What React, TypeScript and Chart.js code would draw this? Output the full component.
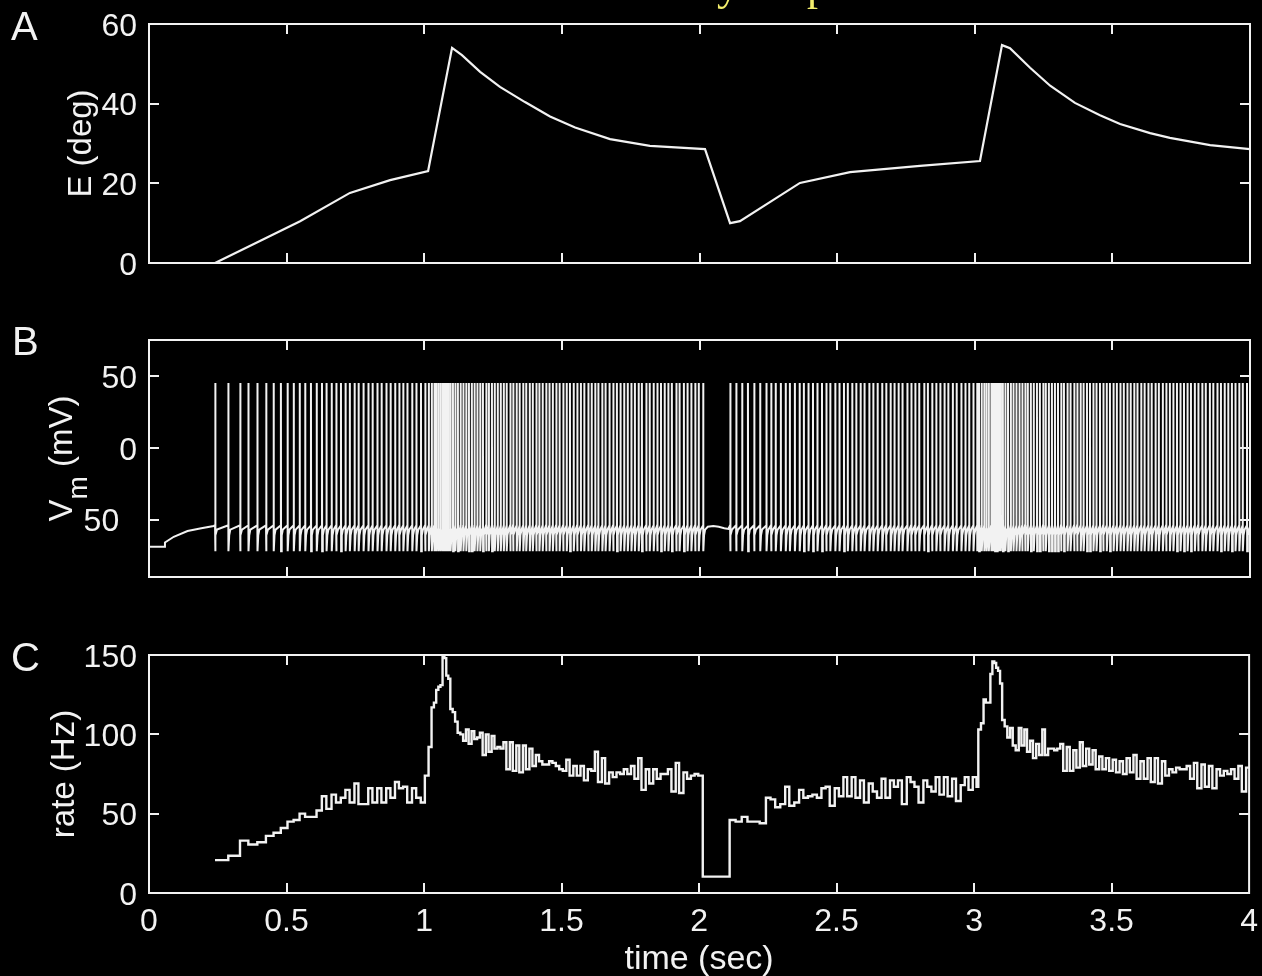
import React, { useEffect, useRef } from 'react';
import { Chart, registerables } from 'chart.js';

Chart.register(...registerables);

// ---------- shared axis data ----------
const T_END = 4;
const xTickValues = [0, 0.5, 1, 1.5, 2, 2.5, 3, 3.5, 4];

// ---------- panel A: eye position E (deg) ----------
const eTickValues = [0, 20, 40, 60];
const eTimes = [0.24, 0.403, 0.549, 0.73, 0.876, 1.014, 1.101, 1.137, 1.203, 1.275, 1.366, 1.457, 1.548, 1.675, 1.82, 2.02, 2.111, 2.147, 2.365, 2.547, 2.801, 3.019, 3.099, 3.128, 3.201, 3.274, 3.364, 3.455, 3.528, 3.637, 3.709, 3.855, 4.0];
const eValues = [0, 5.5, 10.5, 17.6, 20.8, 23.1, 54.0, 52.2, 48.0, 44.2, 40.4, 36.8, 34.0, 31.1, 29.4, 28.6, 10.0, 10.5, 20.1, 22.8, 24.4, 25.6, 54.7, 53.9, 49.0, 44.5, 40.2, 37.1, 34.9, 32.6, 31.4, 29.6, 28.6];

// ---------- panel C: instantaneous firing rate (Hz), one value per inter-spike interval ----------
const rateTickValues = [0, 50, 100, 150];
const segmentStarts = [0.24, 1.003, 2.0135, 2.1112, 3.0154];
const seg1Rates = [20.7, 23.5, 33, 30.6, 32, 36, 38, 41, 45, 46, 50, 48, 48, 52, 61, 53, 62, 57, 60, 65, 57, 69, 56, 56, 66, 57, 66, 57, 66, 60, 70, 66, 67, 57, 66, 60, 57];
const seg2Rates = [74, 92, 117, 120, 128, 130, 131, 149, 148, 137, 135, 116, 114, 108, 101, 100, 96, 103, 94, 102, 97, 98, 101, 87, 100, 89, 99, 91, 92, 91, 95, 78, 95, 77, 93, 76, 93, 78, 91, 80, 87, 83, 81, 81, 83, 82, 80, 78, 77, 84, 74, 80, 74, 80, 71, 78, 77, 89, 70, 85, 69, 76, 73, 76, 75, 78, 75, 80, 72, 85, 65, 78, 69, 78, 72, 75, 75, 78, 64, 82, 63, 76, 72, 74, 75, 74];
const gapRates = [10.3];
const seg3Rates = [46, 45, 48, 45, 45, 44, 60, 59, 54, 56, 67, 55, 57, 65, 60, 61, 62, 60, 66, 67, 55, 66, 61, 73, 61, 73, 60, 71, 57, 69, 64, 60, 72, 60, 71, 67, 71, 56, 73, 70, 67, 57, 71, 67, 64, 73, 62, 73, 61, 72, 58, 68, 73, 65, 73, 67];
const seg4Rates = [103, 107, 122, 120, 120, 138, 146, 145, 142, 140, 132, 109, 105, 98, 104, 93, 90, 104, 93, 103, 89, 96, 85, 94, 87, 103, 87, 91, 91, 90, 91, 94, 77, 92, 77, 90, 79, 95, 80, 91, 81, 90, 78, 86, 78, 85, 77, 84, 76, 83, 75, 85, 76, 87, 72, 83, 72, 85, 70, 85, 69, 83, 74, 78, 76, 79, 78, 78, 80, 72, 82, 66, 81, 67, 80, 66, 78, 74, 77, 75, 78, 72, 80, 64, 79];

// ---------- panel B: membrane potential Vm (mV) ----------
const vmTickValues = [-50, 0, 50];
const restTimes = [0, 0.055, 0.058, 0.09, 0.14, 0.19, 0.235];
const restVm = [-69, -69, -66, -62, -58, -56, -54.5];
const apOffsetMs = [0, 0, 0.6, 3, 7];
const apVm = [-54, 45, -72, -61, -57];
const gapTimes = [2.03, 2.05, 2.07, 2.09, 2.105];
const gapVm = [-55, -54.5, -55, -56, -56.5];

// ---------- styling ----------
const FG = '#f2f2f2';
const FONT = '"Liberation Sans", Arial, Helvetica, sans-serif';
const TICK_SIZE = 32;
const TITLE_SIZE = 33;

type Pt = { x: number; y: number };

function buildSpikes(): { t: number; r: number }[] {
  const segs = [seg1Rates, seg2Rates, gapRates, seg3Rates, seg4Rates];
  const out: { t: number; r: number }[] = [];
  segs.forEach((rates, k) => {
    const end = k + 1 < segmentStarts.length ? segmentStarts[k + 1] : T_END;
    let t = segmentStarts[k];
    for (const r of rates) {
      if (t >= end - 1e-4) break;
      out.push({ t, r });
      t += 1 / r;
    }
  });
  return out;
}

const spikes = buildSpikes();

const eData: Pt[] = eTimes.map((t, i) => ({ x: t, y: eValues[i] }));
const rateData: Pt[] = spikes
  .map((s) => ({ x: s.t, y: s.r }))
  .concat([{ x: T_END, y: spikes[spikes.length - 1].r }]);

function buildVm(): Pt[] {
  const pts: Pt[] = restTimes.map((t, i) => ({ x: t, y: restVm[i] }));
  spikes.forEach((s, i) => {
    const next = i + 1 < spikes.length ? spikes[i + 1].t : T_END;
    apOffsetMs.forEach((o, j) => {
      const tt = s.t + o / 1000;
      if (j < 2 || tt < next) pts.push({ x: tt, y: apVm[j] });
    });
  });
  gapTimes.forEach((t, i) => pts.push({ x: t, y: gapVm[i] }));
  pts.push({ x: T_END, y: -55 });
  return pts.slice().sort((a, b) => a.x - b.x);
}
const vmData = buildVm();

// ---------- drawing helpers ----------
function drawRotated(ctx: CanvasRenderingContext2D, parts: { text: string; size: number; dy: number }[], baseX: number, centerY: number) {
  ctx.save();
  let total = 0;
  const widths = parts.map((p) => {
    ctx.font = `${p.size}px ${FONT}`;
    const w = ctx.measureText(p.text).width;
    total += w;
    return w;
  });
  ctx.translate(baseX, centerY);
  ctx.rotate(-Math.PI / 2);
  ctx.textBaseline = 'alphabetic';
  ctx.textAlign = 'left';
  ctx.fillStyle = FG;
  let x = -total / 2;
  parts.forEach((p, i) => {
    ctx.font = `${p.size}px ${FONT}`;
    ctx.fillText(p.text, x, p.dy);
    x += widths[i];
  });
  ctx.restore();
}

function framePlugin(extra: (chart: any) => void) {
  return {
    id: 'frame' + Math.random().toString(36).slice(2),
    afterDraw(chart: any) {
      const { ctx, chartArea } = chart;
      const { left, right, top, bottom } = chartArea;
      const xs = chart.scales.x;
      const ys = chart.scales.y;
      ctx.save();
      ctx.strokeStyle = FG;
      ctx.lineWidth = 2;
      ctx.strokeRect(left, top, right - left, bottom - top);
      ctx.beginPath();
      xs.ticks.forEach((t: any) => {
        const px = Math.round(xs.getPixelForValue(t.value));
        if (px <= left + 2 || px >= right - 2) return;
        ctx.moveTo(px, bottom);
        ctx.lineTo(px, bottom - 10);
        ctx.moveTo(px, top);
        ctx.lineTo(px, top + 10);
      });
      ys.ticks.forEach((t: any) => {
        const py = Math.round(ys.getPixelForValue(t.value));
        if (py <= top + 2 || py >= bottom - 2) return;
        ctx.moveTo(left, py);
        ctx.lineTo(left + 10, py);
        ctx.moveTo(right, py);
        ctx.lineTo(right - 10, py);
      });
      ctx.stroke();
      ctx.restore();
      ctx.save();
      extra(chart);
      ctx.restore();
    },
  };
}

type Spec = {
  top: number;
  width: number;
  height: number;
  padTop: number;
  xHeight: number;
  yMin: number;
  yMax: number;
  yTicks: number[];
  yLabel: (v: number) => string;
  showX: boolean;
  data: Pt[];
  lineWidth: number;
  stepped: boolean;
  extra: (chart: any) => void;
};

function Panel({ spec }: { spec: Spec }) {
  const ref = useRef<HTMLCanvasElement>(null);
  useEffect(() => {
    const chart = new Chart(ref.current as HTMLCanvasElement, {
      type: 'line',
      data: {
        datasets: [
          {
            data: spec.data as any,
            borderColor: FG,
            borderWidth: spec.lineWidth,
            pointRadius: 0,
            tension: 0,
            fill: false,
            stepped: spec.stepped ? 'before' : false,
            borderJoinStyle: 'miter',
          } as any,
        ],
      },
      options: {
        responsive: false,
        animation: false,
        events: [],
        parsing: false,
        normalized: true,
        layout: { padding: { top: spec.padTop, right: 12, left: 0, bottom: 0 } },
        plugins: { legend: { display: false }, tooltip: { enabled: false }, title: { display: false } },
        scales: {
          x: {
            type: 'linear',
            min: 0,
            max: T_END,
            grid: { display: false, drawTicks: false },
            border: { display: false },
            afterBuildTicks: (s: any) => {
              s.ticks = xTickValues.map((v) => ({ value: v }));
            },
            ticks: {
              display: spec.showX,
              color: FG,
              font: { family: FONT, size: TICK_SIZE },
              padding: 10,
              maxRotation: 0,
              autoSkip: false,
              callback: (v: any) => String(v),
            },
            afterFit: (s: any) => {
              s.height = spec.xHeight;
            },
          },
          y: {
            type: 'linear',
            min: spec.yMin,
            max: spec.yMax,
            grid: { display: false, drawTicks: false },
            border: { display: false },
            afterBuildTicks: (s: any) => {
              s.ticks = spec.yTicks.map((v) => ({ value: v }));
            },
            ticks: {
              color: FG,
              font: { family: FONT, size: TICK_SIZE },
              padding: 12,
              labelOffset: 3,
              autoSkip: false,
              callback: (v: any) => spec.yLabel(Number(v)),
            },
            afterFit: (s: any) => {
              s.width = 149;
            },
          },
        },
      } as any,
      plugins: [framePlugin(spec.extra)],
    });
    return () => chart.destroy();
  }, []);
  return (
    <canvas
      ref={ref}
      width={spec.width}
      height={spec.height}
      style={{ position: 'absolute', left: 0, top: spec.top, display: 'block', width: spec.width, height: spec.height }}
    />
  );
}

function letter(ctx: CanvasRenderingContext2D, text: string, x: number, y: number) {
  ctx.fillStyle = FG;
  ctx.font = `40px ${FONT}`;
  ctx.textAlign = 'left';
  ctx.textBaseline = 'alphabetic';
  ctx.fillText(text, x, y);
}

// panel A canvas starts 10px above the page so the chart area can start at y=24
const specA: Spec = {
  top: -10,
  width: 1262,
  height: 310,
  padTop: 34,
  xHeight: 37,
  yMin: 0,
  yMax: 60,
  yTicks: eTickValues,
  yLabel: (v) => String(v),
  showX: false,
  data: eData,
  lineWidth: 2.2,
  stepped: false,
  extra: (chart) => {
    const { ctx, chartArea } = chart;
    letter(ctx, 'A', 11, 50);
    ctx.fillStyle = '#f3ee6c';
    ctx.font = '44px "Liberation Serif", "DejaVu Serif", serif';
    ctx.textBaseline = 'alphabetic';
    ctx.textAlign = 'left';
    ctx.fillText('y', 717, 10);
    ctx.fillText('p', 807, 10);
    drawRotated(ctx, [{ text: 'E (deg)', size: TITLE_SIZE, dy: 0 }], 91, (chartArea.top + chartArea.bottom) / 2);
  },
};

const specB: Spec = {
  top: 300,
  width: 1262,
  height: 320,
  padTop: 40,
  xHeight: 43,
  yMin: -90,
  yMax: 75,
  yTicks: vmTickValues,
  yLabel: (v) => (v < 0 ? String(Math.abs(v)) + '\u2007' : String(v)),
  showX: false,
  data: vmData,
  lineWidth: 2,
  stepped: false,
  extra: (chart) => {
    const { ctx, chartArea } = chart;
    letter(ctx, 'B', 12, 55);
    drawRotated(
      ctx,
      [
        { text: 'V', size: TITLE_SIZE, dy: 0 },
        { text: 'm', size: 28, dy: 15 },
        { text: ' (mV)', size: TITLE_SIZE, dy: 0 },
      ],
      71.5,
      (chartArea.top + chartArea.bottom) / 2
    );
  },
};

// panel C canvas is 6px wider than the page so the "4" label fits while the chart area ends at x=1250
const specC: Spec = {
  top: 620,
  width: 1268,
  height: 356,
  padTop: 35,
  xHeight: 83,
  yMin: 0,
  yMax: 150,
  yTicks: rateTickValues,
  yLabel: (v) => String(v),
  showX: true,
  data: rateData,
  lineWidth: 2.4,
  stepped: true,
  extra: (chart) => {
    const { ctx, chartArea } = chart;
    letter(ctx, 'C', 11, 51);
    drawRotated(ctx, [{ text: 'rate (Hz)', size: TITLE_SIZE, dy: 0 }], 74, (chartArea.top + chartArea.bottom) / 2);
    ctx.fillStyle = FG;
    ctx.font = `34px ${FONT}`;
    ctx.textAlign = 'center';
    ctx.textBaseline = 'alphabetic';
    ctx.fillText('time (sec)', (chartArea.left + chartArea.right) / 2, 349);
  },
};

export default function App() {
  return (
    <div style={{ position: 'fixed', left: 0, top: 0, width: 1262, height: 976, background: '#000', overflow: 'hidden' }}>
      <Panel spec={specA} />
      <Panel spec={specB} />
      <Panel spec={specC} />
    </div>
  );
}
